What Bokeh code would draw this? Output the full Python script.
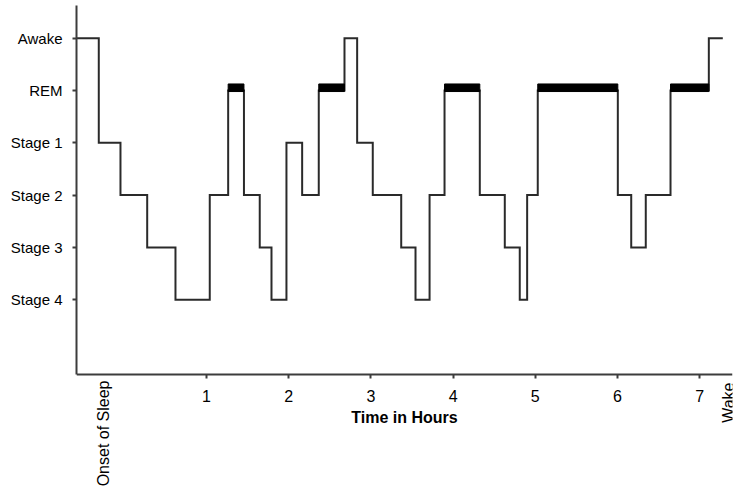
import math
from bokeh.plotting import figure
from bokeh.models import FixedTicker, Label, Range1d
from bokeh.embed import file_html
from bokeh.resources import INLINE

# ---- data -------------------------------------------------------------
stage_names = ["Stage 4", "Stage 3", "Stage 2", "Stage 1", "REM", "Awake"]
stage_levels = [1, 2, 3, 4, 5, 6]
level_of = dict(zip(stage_names, stage_levels))

hour_ticks = [1, 2, 3, 4, 5, 6, 7]

# start time (hours) of each epoch and its stage
epoch_start = [-0.588, -0.310, -0.046, 0.279, 0.623, 1.040, 1.264, 1.456,
               1.648, 1.791, 1.973, 2.164, 2.366, 2.679, 2.833, 3.023,
               3.369, 3.543, 3.714, 3.896, 4.325, 4.629, 4.811, 4.901,
               5.030, 6.004, 6.167, 6.344, 6.645, 7.111]
epoch_stage = ["Awake", "Stage 1", "Stage 2", "Stage 3", "Stage 4", "Stage 2",
               "REM", "Stage 2", "Stage 3", "Stage 4", "Stage 1", "Stage 2",
               "REM", "Awake", "Stage 1", "Stage 2", "Stage 3", "Stage 4",
               "Stage 2", "REM", "Stage 2", "Stage 3", "Stage 4", "Stage 2",
               "REM", "Stage 2", "Stage 3", "Stage 2", "REM", "Awake"]
record_end = 7.281

onset_x = -0.249
wake_x = 7.354

# ---- figure -------------------------------------------------------------
x_floor = -0.43   # level where the time axis sits
y_top = 6.625
p = figure(width=742, height=490, output_backend="svg", toolbar_location=None,
           x_range=Range1d(-0.581, 7.399), y_range=Range1d(-2.648, y_top),
           min_border_left=76, min_border_right=10, min_border_top=5,
           min_border_bottom=0)
p.outline_line_color = None
p.xgrid.visible = False
p.ygrid.visible = False
p.background_fill_color = "white"
p.border_fill_color = "white"

xs = epoch_start + [record_end]
ys = [level_of[s] for s in epoch_stage]
ys = ys + [ys[-1]]
p.step(xs, ys, mode="after", line_color="#2a2a2a", line_width=2,
       line_join="miter")

# REM bars
rem_left, rem_right = [], []
for i, s in enumerate(epoch_stage):
    if s == "REM":
        rem_left.append(xs[i])
        rem_right.append(xs[i + 1])
rem = level_of["REM"]
bar_h = 0.125
p.quad(left=rem_left, right=rem_right, bottom=[rem - 0.02] * len(rem_left),
       top=[rem + bar_h] * len(rem_left), fill_color="black", line_color="black",
       line_width=1)

FONT = "Liberation Sans"

# axes
for ax in (p.xaxis[0], p.yaxis[0]):
    ax.axis_line_color = "#3c3c3c"
    ax.axis_line_width = 2
    ax.major_tick_line_color = "#3c3c3c"
    ax.major_tick_line_width = 2
    ax.major_tick_in = 0
    ax.major_tick_out = 4
    ax.minor_tick_line_color = None
    ax.major_label_text_font = FONT
    ax.major_label_text_color = "black"

p.yaxis.major_label_text_font_size = "15px"
p.yaxis.ticker = FixedTicker(ticks=stage_levels)
p.yaxis.major_label_overrides = {lv: nm for lv, nm in zip(stage_levels, stage_names)}
p.yaxis.major_label_standoff = 10
p.yaxis.bounds = (x_floor, y_top)

p.xaxis.fixed_location = x_floor
p.xaxis.ticker = FixedTicker(ticks=hour_ticks)
p.xaxis.major_label_text_font_size = "16px"
p.xaxis.major_label_standoff = 12
p.xaxis.axis_label = "Time in Hours"
p.xaxis.axis_label_text_font = FONT
p.xaxis.axis_label_text_font_size = "16px"
p.xaxis.axis_label_text_font_style = "bold"
p.xaxis.axis_label_text_color = "black"
p.xaxis.axis_label_standoff = 3

p.add_layout(Label(x=onset_x, y=-0.545, text="Onset of Sleep", angle=math.pi / 2,
                   text_align="right", text_baseline="middle", text_font=FONT,
                   text_font_size="16px", text_color="black"))
p.add_layout(Label(x=wake_x, y=-0.583, text="Wake", angle=math.pi / 2,
                   text_align="right", text_baseline="middle", text_font=FONT,
                   text_font_size="16px", text_color="black"))

open("out.html", "w").write(file_html(p, INLINE))
